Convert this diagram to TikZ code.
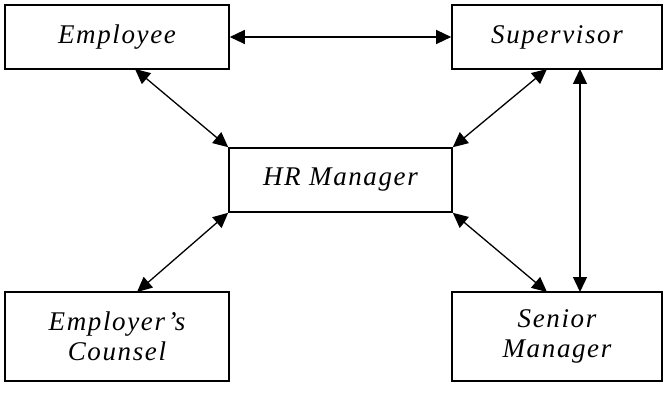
\documentclass[tikz,border=0pt]{standalone}
\usepackage{fontspec}
\setmainfont{Liberation Serif}[LetterSpace=6]
\usetikzlibrary{arrows.meta}
\begin{document}
\begin{tikzpicture}[x=1pt,y=-1pt,
  box/.style={draw,line width=1.6pt,inner sep=0pt,align=center,
    font=\fontsize{27}{30}\selectfont\itshape},
  link/.style={line width=1.3pt,{Triangle[length=15pt,width=14pt]}-{Triangle[length=15pt,width=14pt]}}]
\useasboundingbox (0,0) rectangle (666,393);
\node[box,minimum width=224pt,minimum height=64pt] (emp) at (117,37) {Employee};
\node[box,minimum width=210pt,minimum height=64pt] (sup) at (557,37) {Supervisor};
\node[box,minimum width=223pt,minimum height=64pt] (hr) at (340.5,180) {HR Manager};
\node[box,minimum width=224pt,minimum height=89pt] (cou) at (117,336.5) {Employer’s\\Counsel};
\node[box,minimum width=210pt,minimum height=89pt] (sen) at (557,336.5) {Senior\\Manager};
\coordinate (a1) at (135,69);
\coordinate (a2) at (547,69);
\coordinate (a3) at (580,69);
\coordinate (b1) at (137,292);
\coordinate (b2) at (547,292);
\coordinate (b3) at (580,292);
\draw[link] (emp.east) -- (sup.west);
\draw[link] (a1) -- (hr.north west);
\draw[link] (a2) -- (hr.north east);
\draw[link] (a3) -- (b3);
\draw[link] (hr.south west) -- (b1);
\draw[link] (hr.south east) -- (b2);
\end{tikzpicture}
\end{document}
